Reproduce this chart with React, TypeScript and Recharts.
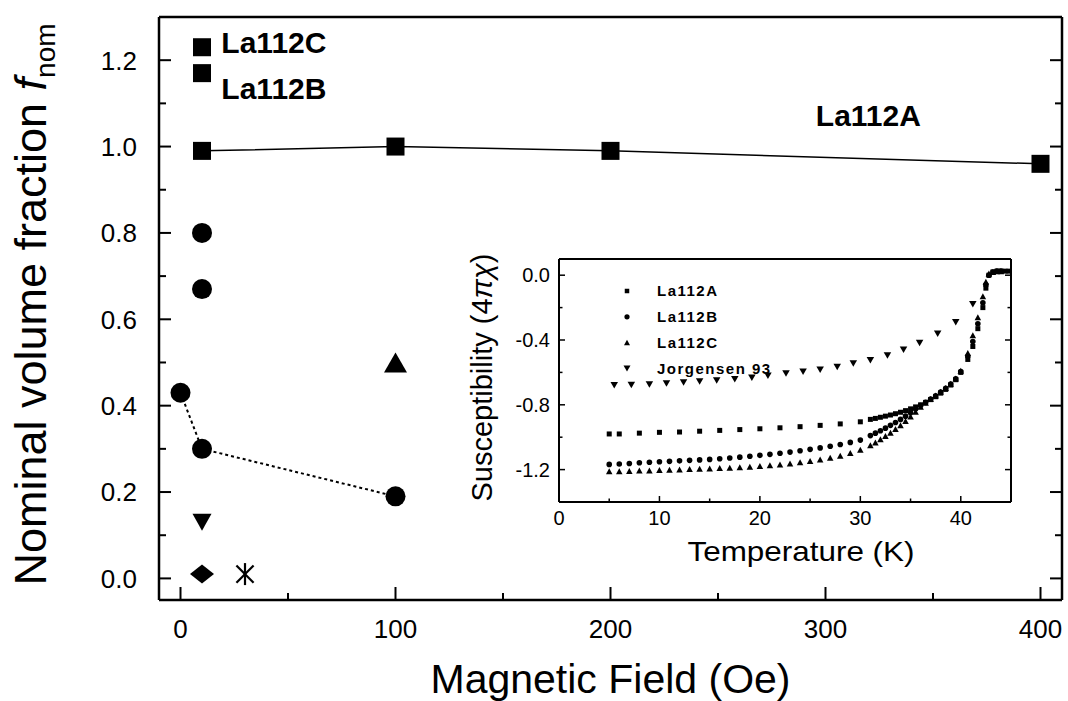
import React from "react";
import {
  ScatterChart,
  Scatter,
  XAxis,
  YAxis,
  ReferenceDot,
  Legend,
} from "recharts";

const FONT = "'Liberation Sans', Arial, Helvetica, sans-serif";
const INK = "#000";

// main panel: nominal volume fraction vs magnetic field
const fieldMajorTicks = [0, 100, 200, 300, 400];
const fieldMinorTicks = [50, 150, 250, 350];
const fracMajorTicks = [0, 0.2, 0.4, 0.6, 0.8, 1.0, 1.2];
const fracMinorTicks = [0.1, 0.3, 0.5, 0.7, 0.9, 1.1];

const fieldA = [10, 100, 200, 400];
const fracA = [0.99, 1.0, 0.99, 0.96];
const fieldBC = [10, 10];
const fracBC = [1.17, 1.23];
const fieldDot = [10, 10];
const fracDot = [0.8, 0.67];
const fieldDotLine = [0, 10, 100];
const fracDotLine = [0.43, 0.3, 0.19];
const fieldUp = [100];
const fracUp = [0.5];
const fieldDown = [10];
const fracDown = [0.13];
const fieldDiamond = [10];
const fracDiamond = [0.01];
const fieldStar = [30];
const fracStar = [0.01];

const noteText = ["La112C", "La112B", "La112A"];
const noteField = [19, 19, 295.5];
const noteFrac = [1.217, 1.111, 1.047];

// inset: susceptibility vs temperature
const tempMajorTicks = [0, 10, 20, 30, 40];
const tempMinorTicks = [5, 15, 25, 35];
const chiMajorTicks = [0, -0.4, -0.8, -1.2];
const chiMinorTicks = [-0.2, -0.6, -1.0];

const tempA = [
  5, 6, 8, 10, 12, 14, 16, 18, 20, 22, 24, 26, 28, 30,
  31, 31.5, 32, 32.5, 33, 33.5, 34, 34.5, 35, 35.5, 36,
  36.5, 37, 37.5, 38, 38.5, 39, 39.5, 40,
  40.7, 41.2, 41.7, 42.2, 42.5, 42.8,
  43.2, 43.6, 44, 44.4, 44.8,
];
const chiA = [
  -0.98, -0.98, -0.975, -0.97, -0.968, -0.963, -0.958, -0.953, -0.948, -0.942, -0.935, -0.927, -0.918, -0.905,
  -0.89, -0.884, -0.877, -0.87, -0.863, -0.855, -0.846, -0.836, -0.825, -0.813, -0.8,
  -0.785, -0.768, -0.75, -0.728, -0.705, -0.678, -0.645, -0.6,
  -0.52, -0.44, -0.33, -0.2, -0.08, 0.0,
  0.02, 0.025, 0.025, 0.025, 0.025,
];

const tempBC = [
  5, 6, 7, 8, 9, 10, 11, 12, 13, 14, 15, 16, 17, 18, 19, 20, 21, 22, 23, 24, 25, 26, 27, 28, 29, 30,
  31, 31.5, 32, 32.5, 33, 33.5, 34, 34.5, 35, 35.5, 36,
  36.5, 37, 37.5, 38, 38.5, 39, 39.5, 40,
  40.7, 41.2, 41.7, 42.2, 42.5, 42.8,
  43.2, 43.6, 44,
];
const chiB = [
  -1.168, -1.165, -1.162, -1.158, -1.155, -1.152, -1.149, -1.146, -1.143, -1.14, -1.137, -1.133, -1.128,
  -1.123, -1.118, -1.112, -1.106, -1.099, -1.092, -1.084, -1.075, -1.066, -1.056, -1.045, -1.032, -1.018,
  -0.99, -0.975, -0.96, -0.944, -0.927, -0.909, -0.89, -0.87, -0.849, -0.826, -0.805,
  -0.785, -0.765, -0.745, -0.722, -0.698, -0.672, -0.64, -0.595,
  -0.5, -0.41, -0.3, -0.17, -0.06, 0.0,
  0.02, 0.025, 0.025,
];
const chiC = [
  -1.21, -1.21, -1.208, -1.206, -1.205, -1.203, -1.201, -1.199, -1.197, -1.195, -1.193, -1.19, -1.188,
  -1.185, -1.182, -1.178, -1.173, -1.168, -1.162, -1.155, -1.147, -1.138, -1.127, -1.114, -1.098, -1.078,
  -1.05, -1.032, -1.013, -0.993, -0.972, -0.95, -0.926, -0.9, -0.872, -0.843, -0.812,
  -0.787, -0.764, -0.742, -0.72, -0.696, -0.67, -0.638, -0.59,
  -0.48, -0.37, -0.26, -0.13, -0.04, 0.01,
  0.02, 0.025, 0.025,
];

const tempJ = [
  5.5, 7.2, 9.0, 10.7, 12.4, 14.0, 15.7, 17.5, 19.2, 20.8, 22.6,
  24.3, 26.0, 27.7, 29.3, 31.0, 32.7, 34.3, 35.9, 37.7, 39.5, 41.2,
];
const chiJ = [
  -0.68, -0.678, -0.674, -0.668, -0.662, -0.656, -0.65, -0.643, -0.633, -0.62, -0.607,
  -0.596, -0.583, -0.567, -0.545, -0.525, -0.495, -0.46, -0.418, -0.362, -0.29, -0.18,
];

const legendOrder = ["La112A", "La112B", "La112C", "Jorgensen 93"];

const pts = (xs: number[], ys: number[]) => xs.map((x, i) => ({ x, y: ys[i] }));

// marker shapes
const square = (s: number) => (p: any) => (
  <rect x={p.cx - s / 2} y={p.cy - s / 2} width={s} height={s} fill={INK} />
);
const dot = (r: number) => (p: any) => <circle cx={p.cx} cy={p.cy} r={r} fill={INK} />;
const triUp = (w: number, h: number) => (p: any) => (
  <polygon
    points={`${p.cx - w / 2},${p.cy + h / 2} ${p.cx + w / 2},${p.cy + h / 2} ${p.cx},${p.cy - h / 2}`}
    fill={INK}
  />
);
const triDown = (w: number, h: number) => (p: any) => (
  <polygon
    points={`${p.cx - w / 2},${p.cy - h / 2} ${p.cx + w / 2},${p.cy - h / 2} ${p.cx},${p.cy + h / 2}`}
    fill={INK}
  />
);
const diamond = (w: number, h: number) => (p: any) => (
  <polygon
    points={`${p.cx},${p.cy - h / 2} ${p.cx + w / 2},${p.cy} ${p.cx},${p.cy + h / 2} ${p.cx - w / 2},${p.cy}`}
    fill={INK}
  />
);
const star = (s: number) => (p: any) => {
  const r = s / 2;
  const d = r * 0.78;
  return (
    <g stroke={INK} strokeWidth={2.2}>
      <line x1={p.cx} y1={p.cy - r} x2={p.cx} y2={p.cy + r} />
      <line x1={p.cx - d} y1={p.cy - d} x2={p.cx + d} y2={p.cy + d} />
      <line x1={p.cx - d} y1={p.cy + d} x2={p.cx + d} y2={p.cy - d} />
    </g>
  );
};

// recharts puts the tick label at tickSize + tickMargin from the axis line
const TICK_SIZE = 10;
const TICK_MARGIN = 1;
const OFF = TICK_SIZE + TICK_MARGIN;

type Side = "bottom" | "top" | "left" | "right";
type TickOpts = { major: number; minor: number; font: number; gap: number; digits: number; width: number };

// inward ticks, long for majors, short for minors; labels only on bottom/left majors
const makeTick = (side: Side, majors: number[], o: TickOpts) => (props: any) => {
  const { x, y, payload } = props;
  const v = payload.value;
  const isMajor = majors.includes(v);
  const len = isMajor ? o.major : o.minor;
  const txt = v.toFixed(o.digits);
  let line = null;
  let label = null;
  if (side === "bottom") {
    const y0 = y - OFF;
    line = <line x1={x} y1={y0} x2={x} y2={y0 - len} />;
    if (isMajor)
      label = (
        <text x={x} y={y0 + o.gap} textAnchor="middle" fontSize={o.font} fontFamily={FONT} fill={INK} stroke="none">
          {txt}
        </text>
      );
  } else if (side === "top") {
    const y0 = y + OFF;
    line = <line x1={x} y1={y0} x2={x} y2={y0 + len} />;
  } else if (side === "left") {
    const x0 = x + OFF;
    line = <line x1={x0} y1={y} x2={x0 + len} y2={y} />;
    if (isMajor)
      label = (
        <text x={x0 - o.gap} y={y} dy="0.36em" textAnchor="end" fontSize={o.font} fontFamily={FONT} fill={INK} stroke="none">
          {txt}
        </text>
      );
  } else {
    const x0 = x - OFF;
    line = <line x1={x0} y1={y} x2={x0 - len} y2={y} />;
  }
  return (
    <g stroke={INK} strokeWidth={o.width}>
      {line}
      {label}
    </g>
  );
};

const mainX: TickOpts = { major: 13, minor: 7, font: 26, gap: 38, digits: 0, width: 2 };
const mainY: TickOpts = { major: 12, minor: 7, font: 26, gap: 22, digits: 1, width: 2 };
const insetX: TickOpts = { major: 6, minor: 3.5, font: 20, gap: 23, digits: 0, width: 1.5 };
const insetY: TickOpts = { major: 6, minor: 3.5, font: 20, gap: 9, digits: 1, width: 1.5 };

const mainFrame = { stroke: INK, strokeWidth: 2.5 };
const insetFrame = { stroke: INK, strokeWidth: 2 };

const legendMark = (name: string, cx: number, cy: number) => {
  const p = { cx, cy };
  if (name === "La112A") return square(4.5)(p);
  if (name === "La112B") return dot(2.6)(p);
  if (name === "La112C") return triUp(6, 5.5)(p);
  return triDown(7, 6)(p);
};

const renderLegend = (props: any) => {
  const items = [...(props.payload ?? [])].sort(
    (a: any, b: any) => legendOrder.indexOf(a.value) - legendOrder.indexOf(b.value)
  );
  return (
    <svg width={200} height={110}>
      {items.map((it: any, i: number) => {
        const cy = 11 + i * 25.8;
        return (
          <g key={it.value}>
            {legendMark(it.value, 10, cy)}
            <text
              x={40}
              y={cy}
              dy="0.36em"
              fontSize={15}
              fontWeight="bold"
              letterSpacing={1.5}
              fontFamily={FONT}
              fill={INK}
            >
              {it.value}
            </text>
          </g>
        );
      })}
    </svg>
  );
};

const axisCommon = {
  type: "number" as const,
  allowDataOverflow: true,
  interval: 0 as const,
  tickSize: TICK_SIZE,
  tickMargin: TICK_MARGIN,
  tickLine: false,
};

export default function App() {
  const fieldTicks = [...fieldMajorTicks, ...fieldMinorTicks];
  const fracTicks = [...fracMajorTicks, ...fracMinorTicks];
  const tempTicks = [...tempMajorTicks, ...tempMinorTicks];
  const chiTicks = [...chiMajorTicks, ...chiMinorTicks];

  return (
    <div
      style={{
        position: "absolute",
        left: 0,
        top: 0,
        width: 1068,
        height: 701,
        background: "#fff",
        fontFamily: FONT,
      }}
    >
      <ScatterChart width={1068} height={701} margin={{ top: 16, right: 5, bottom: 0, left: 0 }}>
        <XAxis
          {...axisCommon}
          xAxisId="b"
          dataKey="x"
          domain={[-10, 410]}
          ticks={fieldTicks}
          height={101}
          axisLine={mainFrame}
          tick={makeTick("bottom", fieldMajorTicks, mainX)}
          label={(p: any) => {
            const vb = p.viewBox ?? { x: 159, y: 600, width: 903 };
            return (
              <text x={vb.x + vb.width / 2} y={vb.y + 93} textAnchor="middle" fontSize={41} fontFamily={FONT} fill={INK}>
                Magnetic Field (Oe)
              </text>
            );
          }}
        />
        <XAxis
          {...axisCommon}
          xAxisId="t"
          orientation="top"
          domain={[-10, 410]}
          ticks={fieldTicks}
          height={1}
          axisLine={mainFrame}
          tick={makeTick("top", fieldMajorTicks, mainX)}
        />
        <YAxis
          {...axisCommon}
          yAxisId="l"
          dataKey="y"
          domain={[-0.05, 1.3]}
          ticks={fracTicks}
          width={159}
          axisLine={mainFrame}
          tick={makeTick("left", fracMajorTicks, mainY)}
          label={(p: any) => {
            const vb = p.viewBox ?? { x: 0, y: 17, height: 583 };
            const cx = 46;
            const cy = vb.y + vb.height / 2 - 4;
            return (
              <text
                x={cx}
                y={cy}
                transform={`rotate(-90, ${cx}, ${cy})`}
                textAnchor="middle"
                fontSize={45}
                fontFamily={FONT}
                fill={INK}
              >
                Nominal volume fraction{" "}
                <tspan fontStyle="italic">f</tspan>
                <tspan fontSize={28} dy={9}>nom</tspan>
              </text>
            );
          }}
        />
        <YAxis
          {...axisCommon}
          yAxisId="r"
          orientation="right"
          domain={[-0.05, 1.3]}
          ticks={fracTicks}
          width={1}
          axisLine={mainFrame}
          tick={makeTick("right", fracMajorTicks, mainY)}
        />

        <Scatter
          xAxisId="b"
          yAxisId="l"
          data={pts(fieldA, fracA)}
          line={{ stroke: INK, strokeWidth: 1.5 }}
          lineType="joint"
          shape={square(18)}
          isAnimationActive={false}
        />
        <Scatter xAxisId="b" yAxisId="l" data={pts(fieldBC, fracBC)} shape={square(18)} isAnimationActive={false} />
        <Scatter xAxisId="b" yAxisId="l" data={pts(fieldDot, fracDot)} shape={dot(10)} isAnimationActive={false} />
        <Scatter
          xAxisId="b"
          yAxisId="l"
          data={pts(fieldDotLine, fracDotLine)}
          line={{ stroke: INK, strokeWidth: 2, strokeDasharray: "3 3" }}
          lineType="joint"
          shape={dot(10)}
          isAnimationActive={false}
        />
        <Scatter xAxisId="b" yAxisId="l" data={pts(fieldUp, fracUp)} shape={triUp(23, 20)} isAnimationActive={false} />
        <Scatter xAxisId="b" yAxisId="l" data={pts(fieldDown, fracDown)} shape={triDown(19, 17)} isAnimationActive={false} />
        <Scatter
          xAxisId="b"
          yAxisId="l"
          data={pts(fieldDiamond, fracDiamond)}
          shape={diamond(24, 19)}
          isAnimationActive={false}
        />
        <Scatter xAxisId="b" yAxisId="l" data={pts(fieldStar, fracStar)} shape={star(22)} isAnimationActive={false} />

        {noteText.map((t, i) => (
          <ReferenceDot
            key={t}
            xAxisId="b"
            yAxisId="l"
            x={noteField[i]}
            y={noteFrac[i]}
            r={0}
            ifOverflow="visible"
            shape={(p: any) => (
              <text x={p.cx} y={p.cy} fontSize={30} fontWeight="bold" fontFamily={FONT} fill={INK}>
                {t}
              </text>
            )}
          />
        ))}
      </ScatterChart>

      <div style={{ position: "absolute", left: 440, top: 250 }}>
        <ScatterChart width={580} height={330} margin={{ top: 8, right: 8, bottom: 0, left: 0 }}>
          <XAxis
            {...axisCommon}
            xAxisId="b"
            dataKey="x"
            domain={[0, 45]}
            ticks={tempTicks}
            height={78}
            axisLine={insetFrame}
            tick={makeTick("bottom", tempMajorTicks, insetX)}
            label={(p: any) => {
              const vb = p.viewBox ?? { x: 119, y: 252, width: 452 };
              return (
                <text
                  x={vb.x + vb.width / 2 + 16}
                  y={vb.y + 59}
                  textAnchor="middle"
                  fontSize={28}
                  textLength={227}
                  lengthAdjust="spacingAndGlyphs"
                  fontFamily={FONT}
                  fill={INK}
                >
                  Temperature (K)
                </text>
              );
            }}
          />
          <XAxis
            {...axisCommon}
            xAxisId="t"
            orientation="top"
            domain={[0, 45]}
            ticks={tempTicks}
            height={1}
            axisLine={insetFrame}
            tick={makeTick("top", tempMajorTicks, insetX)}
          />
          <YAxis
            {...axisCommon}
            yAxisId="l"
            dataKey="y"
            domain={[-1.4, 0.1]}
            ticks={chiTicks}
            width={119}
            axisLine={insetFrame}
            tick={makeTick("left", chiMajorTicks, insetY)}
            label={(p: any) => {
              const vb = p.viewBox ?? { x: 0, y: 9, height: 243 };
              const cx = 52;
              const cy = vb.y + vb.height / 2 - 3;
              return (
                <text
                  x={cx}
                  y={cy}
                  transform={`rotate(-90, ${cx}, ${cy})`}
                  textAnchor="middle"
                  fontSize={29}
                  fontFamily={FONT}
                  fill={INK}
                >
                  Susceptibility (4<tspan fontStyle="italic">πχ</tspan>)
                </text>
              );
            }}
          />
          <YAxis
            {...axisCommon}
            yAxisId="r"
            orientation="right"
            domain={[-1.4, 0.1]}
            ticks={chiTicks}
            width={1}
            axisLine={insetFrame}
            tick={makeTick("right", chiMajorTicks, insetY)}
          />
          <Legend
            layout="vertical"
            align="center"
            verticalAlign="middle"
            width={200}
            height={110}
            wrapperStyle={{ left: 177, top: 30, width: 200, height: 110 }}
            content={renderLegend}
          />
          <Scatter
            name="La112A"
            xAxisId="b"
            yAxisId="l"
            data={pts(tempA, chiA)}
            shape={square(5)}
            isAnimationActive={false}
          />
          <Scatter
            name="La112B"
            xAxisId="b"
            yAxisId="l"
            data={pts(tempBC, chiB)}
            shape={dot(2.8)}
            isAnimationActive={false}
          />
          <Scatter
            name="La112C"
            xAxisId="b"
            yAxisId="l"
            data={pts(tempBC, chiC)}
            shape={triUp(6.5, 6)}
            isAnimationActive={false}
          />
          <Scatter
            name="Jorgensen 93"
            xAxisId="b"
            yAxisId="l"
            data={pts(tempJ, chiJ)}
            shape={triDown(7.5, 6.5)}
            isAnimationActive={false}
          />
        </ScatterChart>
      </div>
    </div>
  );
}
